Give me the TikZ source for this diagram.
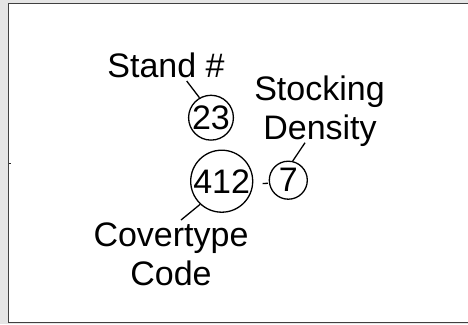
\documentclass[tikz,border=0pt]{standalone}
\usepackage{fontspec}
\setmainfont{Liberation Sans}
\usetikzlibrary{calc}
\begin{document}
\begin{tikzpicture}[x=1bp,y=-1bp,
  lbl/.style={anchor=base,inner sep=0pt,font=\fontsize{34bp}{39.5bp}\selectfont},
  num/.style={circle,draw,line width=1.3bp,inner sep=0pt,font=\fontsize{34bp}{39.5bp}\selectfont},
  conn/.style={line width=1.3bp}]
\useasboundingbox (0,0) rectangle (468,324);
\fill[gray!20] (0,0) rectangle (468,324);
\draw[fill=white,draw=black!75,line width=1.6bp] (8.6,3.6) rectangle (472,322.4);
\coordinate (tickA) at (8.6,163);
\draw[black!85,line width=0.8bp] (tickA) -- ++(2,0);
% labels
\node[lbl] (stand) at (166,77) {Stand \#};
\node[lbl] (stock) at (319.5,100) {Stocking};
\node[lbl] (dens) at (320,139.3) {Density};
\node[lbl] (cover) at (171,246) {Covertype};
\node[lbl] (code) at (171,285) {Code};
% circles
\node[num,minimum size=43.4bp] (c23) at (211,117.7) {23};
\node[num,minimum size=62bp] (c412) at (221.7,181.2) {412};
\node[num,minimum size=38bp] (c7) at (288.3,180.2) {7};
% connectors
\draw[conn] ($(stand.base)+(20.7,4)$) -- (c23.120);
\draw[conn] ($(dens.base)+(-15,3.4)$) -- (c7.77);
\draw[conn] (c412.227) -- ($(cover.base)+(10,-26)$);
\draw[conn,shorten <=9.3bp,shorten >=0.8bp] ([yshift=-3bp]c412.east) -- ([yshift=-3bp]c7.west);
\end{tikzpicture}
\end{document}
